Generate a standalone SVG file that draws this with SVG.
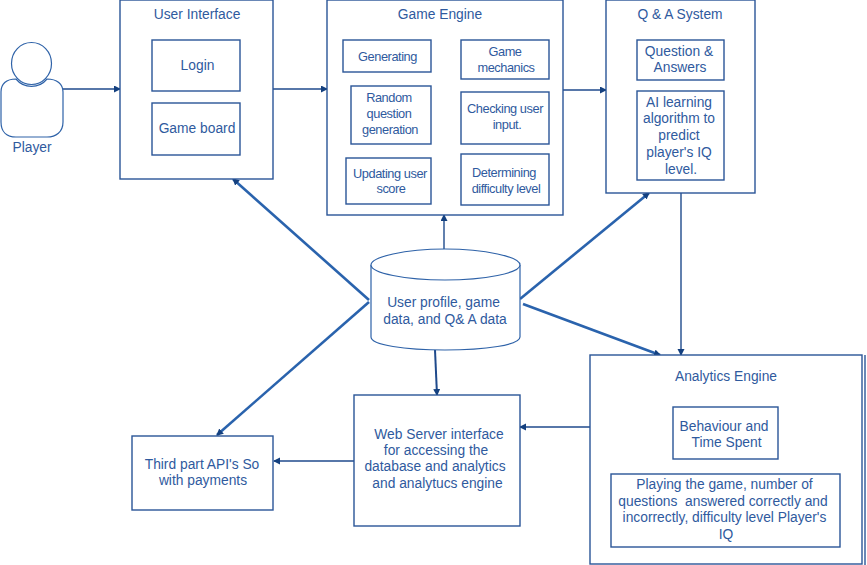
<svg xmlns="http://www.w3.org/2000/svg" width="867" height="565" viewBox="0 0 867 565">
<style>
text{font-family:"Liberation Sans",Arial,sans-serif;font-size:13.8px;fill:#2f5a9e;text-anchor:middle}
text.n{font-size:12.8px;letter-spacing:-0.45px}
rect{fill:#fff;stroke:#2a5597;stroke-width:1.4}
.c{fill:none;stroke:#1f4a8c;stroke-width:1.4}
.t{fill:none;stroke:#2a63ad;stroke-width:2.6}
.s{fill:#fff;stroke:#2e62a8;stroke-width:1.2}
</style>
<defs>
<marker id="a" markerWidth="8" markerHeight="8" refX="6" refY="3.5" orient="auto" markerUnits="userSpaceOnUse"><path d="M0 0L7 3.5L0 7Z" fill="#14407f"/></marker>
</defs>
<rect width="867" height="565" style="fill:#fff;stroke:none"/>
<g id="connectors">
<path class="c" d="M63 89H120" marker-end="url(#a)"/>
<path class="c" d="M273 89H327" marker-end="url(#a)"/>
<path class="c" d="M563 90H606" marker-end="url(#a)"/>
<path class="c" d="M444 250V215" marker-end="url(#a)"/>
<path class="c" d="M681 193V355" marker-end="url(#a)"/>
<path class="c" d="M590 427H520" marker-end="url(#a)"/>
<path class="c" d="M354 461H274" marker-end="url(#a)"/>
<path class="t" d="M369 300L233 179" marker-end="url(#a)"/>
<path class="t" d="M369 302L217 435" marker-end="url(#a)"/>
<path class="t" d="M520 299L649 193" marker-end="url(#a)"/>
<path class="t" d="M523 304L660 355" marker-end="url(#a)"/>
<path class="c" style="stroke-width:2" d="M435 350L437 395" marker-end="url(#a)"/>
</g>
<g id="player">
<ellipse class="s" cx="31.5" cy="63.5" rx="20" ry="21"/>
<path class="s" d="M16 79C6 79 1 84 1 92V122C1 132 7 137 16 137H47C56 137 63 132 63 122V92C63 84 57 79 47 79A20 20 0 0 1 16 79Z"/>
<text x="32" y="152">Player</text>
</g>
<g id="user-interface">
<rect x="120" y="0" width="153" height="179"/>
<text x="197" y="19">User Interface</text>
<rect x="152" y="40" width="88" height="51"/>
<text x="197.500" y="70">Login</text>
<rect x="152" y="103" width="88" height="52"/>
<text x="197" y="133">Game board</text>
</g>
<g id="game-engine">
<rect x="327" y="0" width="236" height="215"/>
<text x="440" y="19">Game Engine</text>
<rect x="343" y="40" width="88" height="32"/>
<text class="n" x="387.500" y="61">Generating</text>
<rect x="461" y="40" width="88" height="39"/>
<text class="n" x="505" y="56">Game</text><text class="n" x="506" y="72">mechanics</text>
<rect x="351" y="86" width="80" height="58"/>
<text class="n" x="389" y="102">Random</text><text class="n" x="389" y="118">question</text><text class="n" x="390" y="134">generation</text>
<rect x="461" y="92" width="88" height="52"/>
<text class="n" x="505" y="113">Checking user</text><text class="n" x="507" y="129">input.</text>
<rect x="346" y="158" width="85" height="46"/>
<text class="n" x="390" y="178">Updating user</text><text class="n" x="391" y="193">score</text>
<rect x="461" y="154" width="88" height="51"/>
<text class="n" x="504" y="177">Determining</text><text class="n" x="506" y="193">difficulty level</text>
</g>
<g id="qa-system">
<rect x="606" y="0" width="149" height="193"/>
<text x="680" y="19">Q &amp; A System</text>
<rect x="637" y="40" width="87" height="40"/>
<text x="679" y="56">Question &amp;</text><text x="680" y="72">Answers</text>
<rect x="637" y="91" width="87" height="89"/>
<text x="679" y="107">AI learning</text><text x="679" y="123">algorithm to</text><text x="679" y="140">predict</text><text x="679" y="157">player's IQ</text><text x="681" y="174">level.</text>
</g>
<g id="database">
<path class="s" d="M371 265V337C371 345 405 350 445 350S520 345 520 337V265C520 257 485 249 445 249S371 257 371 265Z"/>
<path class="s" d="M371 265C371 273 405 280 445 280S520 273 520 265"/>
<text x="443.500" y="307">User profile, game</text>
<text x="445" y="324">data, and Q&amp; A data</text>
</g>
<g id="web-server">
<rect x="354" y="395" width="166" height="131"/>
<text x="439" y="439">Web Server interface</text>
<text x="436" y="455">for accessing the</text>
<text x="435" y="471">database and analytics</text>
<text x="437.500" y="488">and analytucs engine</text>
</g>
<g id="third-party">
<rect x="132" y="436" width="141" height="74"/>
<text x="202" y="469">Third part API's So</text>
<text x="203" y="485">with payments</text>
</g>
<g id="analytics-engine">
<rect x="590" y="355" width="272" height="209"/>
<path d="M865 355V565" style="fill:none;stroke:#2a5597;stroke-width:1.4"/>
<text x="726" y="381">Analytics Engine</text>
<rect x="673" y="407" width="105" height="52"/>
<text x="724" y="431">Behaviour and</text><text x="726.500" y="447">Time Spent</text>
<rect x="611" y="474" width="229" height="73"/>
<text x="724.500" y="489">Playing the game, number of</text>
<text x="723" y="506" style="white-space:pre">questions  answered correctly and</text>
<text x="724.500" y="522">incorrectly, difficulty level Player's</text>
<text x="726" y="539">IQ</text>
</g>
</svg>
